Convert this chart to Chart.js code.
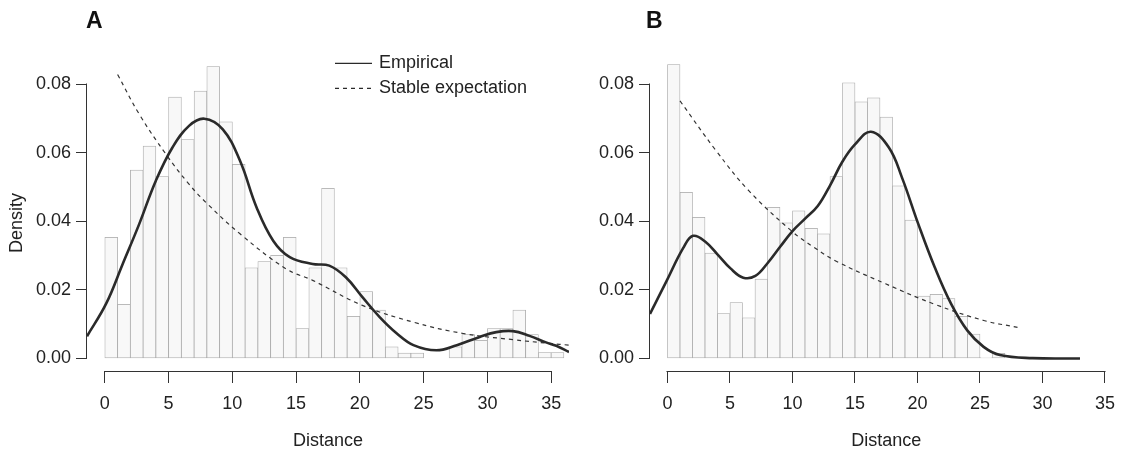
<!DOCTYPE html>
<html><head><meta charset="utf-8">
<script src="https://cdn.jsdelivr.net/npm/chart.js@4.4.1/dist/chart.umd.min.js"></script>
<style>
html,body{margin:0;padding:0;background:#fff;width:1125px;height:453px;overflow:hidden}
canvas{position:absolute;top:0}
#ca{left:0}
#cb{left:560px}
</style></head><body>
<canvas id="ca" width="580" height="453"></canvas>
<canvas id="cb" width="565" height="453"></canvas>
<script>
// ---- data ----
const xTickValues = [0, 5, 10, 15, 20, 25, 30, 35];
const yTickValues = [0, 0.02, 0.04, 0.06, 0.08];
const seriesNames = ['Empirical', 'Stable expectation'];

// Panel A histogram (bin left edges, bin width 1)
const binLeftA = [0,1,2,3,4,5,6,7,8,9,10,11,12,13,14,15,16,17,18,19,20,21,22,23,24,25,26,27,28,29,30,31,32,33,34,35];
const densityA = [0.0354,0.0158,0.0550,0.0620,0.0531,0.0763,0.0639,0.0781,0.0852,0.0691,0.0567,0.0265,0.0283,0.0301,0.0354,0.0087,0.0265,0.0497,0.0265,0.0123,0.0195,0.0141,0.0034,0.0016,0.0016,null,null,0.0034,0.0070,0.0053,0.0087,0.0087,0.0141,0.0070,0.0017,0.0017];
// Panel A curves
const empiricalXA = [-1.4,0.1,1.4,2.7,4.0,5.3,6.6,7.8,9.25,10.6,11.9,13.2,14.5,16.3,17.6,18.9,20.2,21.55,22.9,24.2,26.0,27.6,29.4,30.7,32.0,33.3,34.6,35.4,36.4];
const empiricalYA = [0.0065,0.0160,0.0276,0.0393,0.0519,0.0616,0.0679,0.0700,0.0669,0.0577,0.0441,0.0344,0.0296,0.0276,0.0271,0.0237,0.0179,0.0121,0.0073,0.0039,0.0024,0.0039,0.0063,0.0077,0.0080,0.0066,0.0047,0.0037,0.0019];
const stableXA = [1.0,2.7,4.8,6.6,8.0,10.6,14.2,16.3,20.2,24.2,28.1,32.0,34.9,36.4];
const stableYA = [0.0829,0.0713,0.0596,0.0509,0.0453,0.0364,0.0262,0.0228,0.0155,0.0106,0.0073,0.0055,0.0044,0.0039];

// Panel B histogram
const binLeftB = [0,1,2,3,4,5,6,7,8,9,10,11,12,13,14,15,16,17,18,19,20,21,22,23,24,25,26];
const densityB = [0.0858,0.0485,0.0412,0.0308,0.0131,0.0163,0.0119,0.0232,0.0441,0.0396,0.0431,0.0380,0.0364,0.0531,0.0805,0.0749,0.0761,0.0705,0.0504,0.0404,0.0182,0.0187,0.0175,0.0123,0.0071,0.0003,0.0015];
// Panel B curves
const empiricalXB = [-1.4,-0.05,1.25,2.04,3.03,4.05,5.04,6.06,7.03,8.0,9.01,10.0,11.03,12.02,13.0,14.0,15.0,16.28,17.71,18.76,20.06,21.37,22.68,23.98,25.29,26.6,29.2,33.0];
const empiricalYB = [0.0130,0.0228,0.0322,0.0358,0.0341,0.0302,0.0263,0.0236,0.0241,0.0278,0.0326,0.0372,0.0409,0.0445,0.0505,0.0575,0.0625,0.0662,0.0616,0.0528,0.0393,0.0267,0.0160,0.0082,0.0034,0.0010,0.0001,0.0];
const stableXB = [1.0,3.9,6.5,10.0,11.7,13.5,17.45,21.4,25.3,28.0];
const stableYB = [0.0752,0.0606,0.0490,0.0370,0.0325,0.0284,0.0218,0.0158,0.0111,0.0091];

// ---- drawing ----
Chart.defaults.font.family = "'Liberation Sans', Arial, sans-serif";
Chart.defaults.font.size = 18;
Chart.defaults.color = '#222';

const INK = '#2a2a2a';
const FONT = "'Liberation Sans', Arial, sans-serif";

const decor = {
  id: 'decor',
  afterDraw(chart, args, o) {
    const ctx = chart.ctx, xs = chart.scales.x, ys = chart.scales.y, ca = chart.chartArea;
    ctx.save();
    ctx.strokeStyle = '#333'; ctx.lineWidth = 1;
    ctx.beginPath();
    const yb = ca.bottom + 0.5;
    ctx.moveTo(Math.round(xs.getPixelForValue(xTickValues[0])) - 0.5, yb);
    ctx.lineTo(Math.round(xs.getPixelForValue(xTickValues[xTickValues.length-1])) + 0.5, yb);
    const xl = ca.left - 0.5;
    ctx.moveTo(xl, Math.round(ys.getPixelForValue(yTickValues[0])) + 0.5);
    ctx.lineTo(xl, Math.round(ys.getPixelForValue(yTickValues[yTickValues.length-1])) - 0.5);
    ctx.stroke();
    ctx.fillStyle = '#111';
    ctx.font = "bold 23px " + FONT;
    ctx.textAlign = 'left'; ctx.textBaseline = 'alphabetic';
    ctx.fillText(o.letter, 86, 28);
    ctx.font = "18px " + FONT; ctx.fillStyle = '#222';
    ctx.textAlign = 'center'; ctx.textBaseline = 'middle';
    ctx.fillText('Distance', xs.getPixelForValue(17.5), 441.5);
    if (o.yTitle) {
      ctx.save();
      ctx.translate(17, 223); ctx.rotate(-Math.PI/2);
      ctx.fillText('Density', 0, 0);
      ctx.restore();
    }
    if (o.legend) {
      const lx0 = 335, lx1 = 372, tx = 379, rows = [63.3, 88.3];
      ctx.strokeStyle = INK; ctx.lineWidth = 1.2;
      ctx.beginPath(); ctx.moveTo(lx0, rows[0]); ctx.lineTo(lx1, rows[0]); ctx.stroke();
      ctx.setLineDash([4, 4]);
      ctx.beginPath(); ctx.moveTo(lx0, rows[1]); ctx.lineTo(lx1, rows[1]); ctx.stroke();
      ctx.setLineDash([]);
      ctx.textAlign = 'left'; ctx.textBaseline = 'middle'; ctx.fillStyle = '#222';
      ctx.fillText(seriesNames[0], tx, rows[0]);
      ctx.fillText(seriesNames[1], tx, rows[1]);
    }
    ctx.restore();
  }
};

function makePanel(canvasId, binLeft, dens, ex, ey, sx, sy, xMax, yAxisWidth, padRight, letter, yTitle, legend) {
  return new Chart(document.getElementById(canvasId), {
    type: 'bar',
    data: {
      datasets: [
        {
          type: 'line', label: seriesNames[0],
          data: ex.map((x, i) => ({x, y: ey[i]})),
          borderColor: INK, borderWidth: 2.6, pointRadius: 0,
          tension: 0.4, fill: false, order: 0
        },
        {
          type: 'line', label: seriesNames[1],
          data: sx.map((x, i) => ({x, y: sy[i]})),
          borderColor: '#333', borderWidth: 1.2, borderDash: [4, 4], pointRadius: 0,
          tension: 0.4, fill: false, order: 1
        },
        {
          type: 'bar', label: 'Histogram',
          data: binLeft.map((b, i) => ({x: b + 0.5, y: dens[i]})),
          backgroundColor: '#f8f8f8', borderColor: '#a6a6a6', borderWidth: 0.75,
          borderSkipped: false, barPercentage: 1, categoryPercentage: 1, grouped: false, order: 2
        }
      ]
    },
    options: {
      responsive: false, animation: false, devicePixelRatio: 1,
      layout: {padding: {left: 0, right: padRight, top: 55, bottom: 0}},
      plugins: {legend: {display: false}, tooltip: {enabled: false}, decor: {letter, yTitle, legend}},
      scales: {
        x: {
          type: 'linear', min: -1.4, max: xMax, offset: false,
          grid: {display: true, offset: false, drawOnChartArea: false, drawTicks: true, tickLength: 12, color: '#333', lineWidth: 1},
          border: {display: false},
          ticks: {padding: 10, maxRotation: 0, autoSkip: false, color: '#222', callback: v => String(v)},
          afterBuildTicks: s => { s.ticks = xTickValues.map(v => ({value: v})); },
          afterFit: s => { s.height = 82; }
        },
        y: {
          type: 'linear', min: -0.00365, max: 0.0886,
          grid: {display: true, drawOnChartArea: false, drawTicks: true, tickLength: 11, color: '#333', lineWidth: 1},
          border: {display: false},
          ticks: {padding: 5, color: '#222', callback: v => Number(v).toFixed(2)},
          afterBuildTicks: s => { s.ticks = yTickValues.map(v => ({value: v})); },
          afterFit: s => { s.width = yAxisWidth; }
        }
      }
    },
    plugins: [decor]
  });
}

makePanel('ca', binLeftA, densityA, empiricalXA, empiricalYA, stableXA, stableYA, 36.4, 87, 11, 'A', true, true);
makePanel('cb', binLeftB, densityB, empiricalXB, empiricalYB, stableXB, stableYB, 35.855, 90, 0, 'B', false, false);
</script>
</body></html>
